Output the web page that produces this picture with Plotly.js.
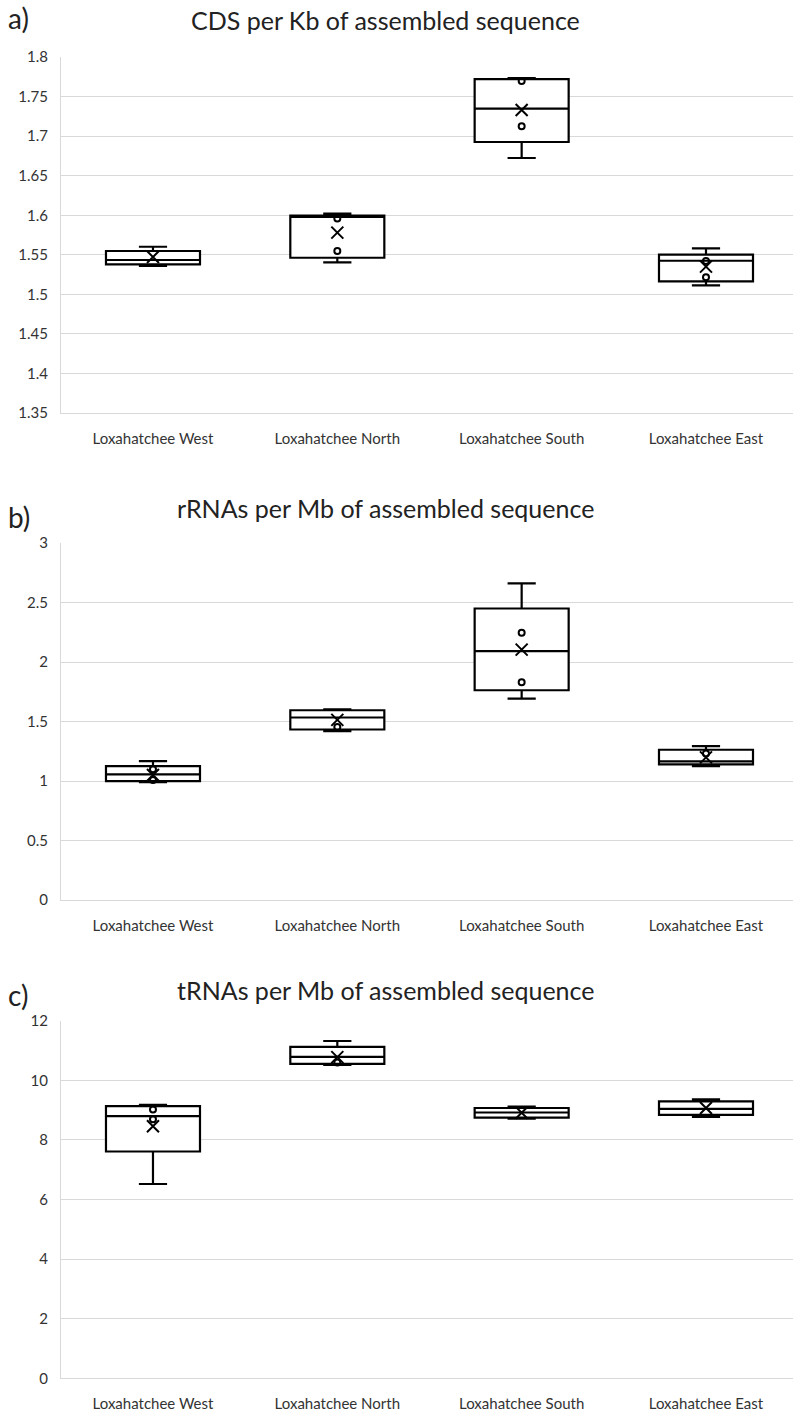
<!DOCTYPE html>
<html>
<head>
<meta charset="utf-8">
<script src="https://cdn.plot.ly/plotly-3.0.1.min.js"></script>
<style>html,body{margin:0;padding:0;background:#fff;}#chart{width:793px;height:1412px;}</style>
</head>
<body>
<div id="chart"></div>
<script>
const categories = ['Loxahatchee West', 'Loxahatchee North', 'Loxahatchee South', 'Loxahatchee East'];

// a) CDS per Kb
const cdsMin    = [1.536, 1.5405, 1.6724, 1.5114];
const cdsQ1     = [1.538, 1.5463, 1.6926, 1.5165];
const cdsMedian = [1.5434, 1.598, 1.7347, 1.5425];
const cdsQ3     = [1.5548, 1.5994, 1.7722, 1.5501];
const cdsMax    = [1.5602, 1.602, 1.7735, 1.5582];
const cdsMean   = [1.5472, 1.578, 1.733, 1.535];
const cdsPoints = [[], [1.596, 1.5548], [1.7697, 1.7124], [1.5422, 1.5215]];
const cdsTickVals = [1.35, 1.4, 1.45, 1.5, 1.55, 1.6, 1.65, 1.7, 1.75, 1.8];
const cdsTickText = ['1.35', '1.4', '1.45', '1.5', '1.55', '1.6', '1.65', '1.7', '1.75', '1.8'];

// b) rRNAs per Mb
const rrnaMin    = [0.99, 1.419, 1.693, 1.126];
const rrnaQ1     = [1.0, 1.433, 1.763, 1.14];
const rrnaMedian = [1.056, 1.534, 2.092, 1.165];
const rrnaQ3     = [1.126, 1.595, 2.45, 1.263];
const rrnaMax    = [1.168, 1.603, 2.662, 1.293];
const rrnaMean   = [1.05, 1.514, 2.104, 1.199];
const rrnaPoints = [[1.098, 1.008], [1.455], [2.246, 1.83], [1.232]];
const rrnaTickVals = [0, 0.5, 1, 1.5, 2, 2.5, 3];
const rrnaTickText = ['0', '0.5', '1', '1.5', '2', '2.5', '3'];

// c) tRNAs per Mb
const trnaMin    = [6.52, 10.52, 8.71, 8.77];
const trnaQ1     = [7.61, 10.55, 8.75, 8.84];
const trnaMedian = [8.80, 10.79, 8.92, 9.04];
const trnaQ3     = [9.134, 11.12, 9.07, 9.29];
const trnaMax    = [9.18, 11.32, 9.12, 9.36];
const trnaMean   = [8.46, 10.78, 8.91, 9.07];
const trnaPoints = [[9.02, 8.69], [10.60], [], []];
const trnaTickVals = [0, 2, 4, 6, 8, 10, 12];
const trnaTickText = ['0', '2', '4', '6', '8', '10', '12'];

const titles = ['CDS per Kb of assembled sequence', 'rRNAs per Mb of assembled sequence', 'tRNAs per Mb of assembled sequence'];
const panelLabels = ['a)', 'b)', 'c)'];

const FONT = 'Lato, "Open Sans", sans-serif';
const panels = [
  {min: cdsMin, q1: cdsQ1, med: cdsMedian, q3: cdsQ3, max: cdsMax, mean: cdsMean, pts: cdsPoints, tv: cdsTickVals, tt: cdsTickText, range: [1.35, 1.8], dom: [0.7075, 0.9596]},
  {min: rrnaMin, q1: rrnaQ1, med: rrnaMedian, q3: rrnaQ3, max: rrnaMax, mean: rrnaMean, pts: rrnaPoints, tv: rrnaTickVals, tt: rrnaTickText, range: [0, 3], dom: [0.3626, 0.6154]},
  {min: trnaMin, q1: trnaQ1, med: trnaMedian, q3: trnaQ3, max: trnaMax, mean: trnaMean, pts: trnaPoints, tv: trnaTickVals, tt: trnaTickText, range: [0, 12], dom: [0.0239, 0.2771]}
];

const traces = [];
const layout = {
  width: 793, height: 1412,
  margin: {l: 61, r: 0, t: 0, b: 0},
  paper_bgcolor: '#fff', plot_bgcolor: '#fff',
  showlegend: false,
  font: {family: FONT, color: '#333'},
  annotations: []
};

panels.forEach((p, i) => {
  const n = i === 0 ? '' : String(i + 1);
  const xa = 'x' + n, ya = 'y' + n;
  traces.push({
    type: 'box', xaxis: xa, yaxis: ya,
    x: categories, q1: p.q1, median: p.med, q3: p.q3,
    lowerfence: p.min, upperfence: p.max,
    boxpoints: false, width: 0.51, whiskerwidth: 0.3,
    fillcolor: '#fff', line: {color: '#000', width: 2.2},
    hoverinfo: 'skip'
  });
  const px = [], py = [];
  p.pts.forEach((arr, k) => arr.forEach(v => { px.push(categories[k]); py.push(v); }));
  traces.push({
    type: 'scatter', mode: 'markers', xaxis: xa, yaxis: ya,
    x: px, y: py,
    marker: {symbol: 'circle-open', size: 6, color: '#000', line: {width: 2, color: '#000'}},
    hoverinfo: 'skip'
  });
  traces.push({
    type: 'scatter', mode: 'markers', xaxis: xa, yaxis: ya,
    x: categories, y: p.mean,
    marker: {symbol: 'x-thin-open', size: 12, color: '#000', line: {width: 2, color: '#000'}},
    hoverinfo: 'skip'
  });
  layout['xaxis' + n] = {
    anchor: ya, domain: [0, 1], type: 'category',
    categoryorder: 'array', categoryarray: categories,
    range: [-0.499, 3.472],
    showgrid: false, zeroline: false,
    showline: true, linecolor: '#d9d9d9', linewidth: 1,
    ticks: '', ticklabelstandoff: 12,
    tickfont: {family: FONT, size: 15, color: '#333'}
  };
  layout['yaxis' + n] = {
    anchor: xa, domain: p.dom, range: p.range,
    tickmode: 'array', tickvals: p.tv, ticktext: p.tt,
    showgrid: true, gridcolor: '#d9d9d9', gridwidth: 1,
    zeroline: false,
    showline: true, linecolor: '#d9d9d9', linewidth: 1,
    ticks: '', ticklabelstandoff: 9,
    tickfont: {family: FONT, size: 15, color: '#333'}
  };
});

const titleY = [1 - 20 / 1412, 1 - 508 / 1412, 1 - 990 / 1412];
const labelY = [1 - 18 / 1412, 1 - 517 / 1412, 1 - 995 / 1412];
titles.forEach((t, i) => {
  layout.annotations.push({
    text: t, xref: 'paper', yref: 'paper', x: (385 - 61) / 732, y: titleY[i],
    xanchor: 'center', yanchor: 'middle', showarrow: false,
    font: {family: FONT, size: 25, color: '#222'}
  });
  layout.annotations.push({
    text: panelLabels[i], xref: 'paper', yref: 'paper', x: 0, y: labelY[i],
    xanchor: 'left', yanchor: 'middle', showarrow: false, xshift: -55,
    font: {family: FONT, size: 28, color: '#222'}
  });
});

Plotly.newPlot('chart', traces, layout, {displayModeBar: false, staticPlot: true});
</script>
</body>
</html>
